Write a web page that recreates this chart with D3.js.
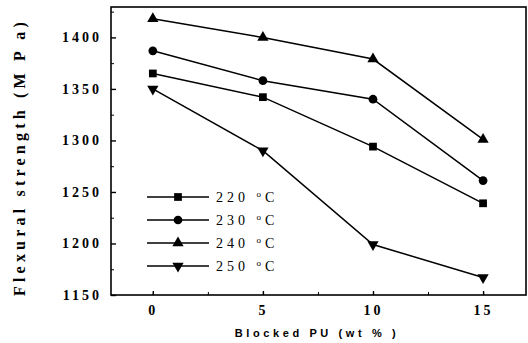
<!DOCTYPE html>
<html>
<head>
<meta charset="utf-8">
<script src="https://cdn.jsdelivr.net/npm/d3@7"></script>
<style>
  body { margin: 0; background: #fff; }
  .tick text { font-family: "Liberation Serif", "DejaVu Serif", serif; font-size: 14px; font-weight: bold; letter-spacing: 3px; fill: #000; }
</style>
</head>
<body>
<div id="chart"></div>
<script>
var svgWidth = 528;
var svgHeight = 343;

var margin = { top: 7, right: 2, bottom: 48, left: 111 };
var width = svgWidth - margin.left - margin.right;
var height = svgHeight - margin.top - margin.bottom;

// data
var blockedPU = [0, 5, 10, 15];
var temps = ["220 °C", "230 °C", "240 °C", "250 °C"];
var s220 = [1365, 1342, 1294, 1239];
var s230 = [1387, 1358, 1340, 1261];
var s240 = [1418, 1400, 1379, 1301];
var s250 = [1350, 1290, 1199, 1167];
var yTicks = [1150, 1200, 1250, 1300, 1350, 1400];
var xTicks = [0, 5, 10, 15];

var series = [
    { name: temps[0], values: s220, symbol: d3.symbolSquare, size: 60, rot: 0 },
    { name: temps[1], values: s230, symbol: d3.symbolCircle, size: 60, rot: 0 },
    { name: temps[2], values: s240, symbol: d3.symbolTriangle, size: 55, rot: 0 },
    { name: temps[3], values: s250, symbol: d3.symbolTriangle, size: 55, rot: 180 }
];

var svg = d3.select("#chart")
    .append("svg")
    .attr("width", svgWidth)
    .attr("height", svgHeight);

var chart = svg.append("g")
    .attr("transform", `translate(${margin.left}, ${margin.top})`);

var xScale = d3.scaleLinear().domain([-1.9, 16.95]).range([0, width]);
var yScale = d3.scaleLinear().domain([1150, 1429.5]).range([height, 0]);

// frame
chart.append("rect")
    .attr("width", width)
    .attr("height", height)
    .attr("fill", "none")
    .attr("stroke", "#000")
    .attr("stroke-width", 1.6);

// minor ticks
chart.append("g")
    .attr("transform", `translate(0, ${height})`)
    .call(d3.axisBottom(xScale).tickValues(d3.range(0, 17, 2.5)).tickSize(-3).tickFormat(""))
    .call(g => g.select(".domain").remove());
chart.append("g")
    .call(d3.axisLeft(yScale).tickValues(d3.range(1175, 1430, 50)).tickSize(-3).tickFormat(""))
    .call(g => g.select(".domain").remove());

// major ticks
chart.append("g")
    .attr("transform", `translate(0, ${height})`)
    .call(d3.axisBottom(xScale).tickValues(xTicks).tickSize(-4).tickPadding(10).tickFormat(d3.format("d")))
    .call(g => g.select(".domain").remove())
    .call(g => g.selectAll("line").attr("stroke-width", 1.4));
chart.append("g")
    .call(d3.axisLeft(yScale).tickValues(yTicks).tickSize(-5).tickPadding(9).tickFormat(d3.format("d")))
    .call(g => g.select(".domain").remove())
    .call(g => g.selectAll("line").attr("stroke-width", 1.4));

// axis labels
chart.append("text")
    .attr("x", 206)
    .attr("y", height + 42)
    .attr("text-anchor", "middle")
    .style("font-family", "'Liberation Sans', Arial, sans-serif")
    .style("font-weight", "bold")
    .style("font-size", "11px")
    .style("letter-spacing", "3.6px")
    .text("Blocked PU (wt % )");

chart.append("text")
    .attr("transform", "rotate(-90)")
    .attr("x", -height / 2 - 6)
    .attr("y", -86)
    .attr("text-anchor", "middle")
    .style("font-family", "'Liberation Serif', serif")
    .style("font-weight", "bold")
    .style("font-size", "16px")
    .style("letter-spacing", "4.2px")
    .text("Flexural strength (M P a)");

// lines and markers
var line = d3.line()
    .x((d, i) => xScale(blockedPU[i]))
    .y(d => yScale(d));

series.forEach(function (s) {
    chart.append("path")
        .datum(s.values)
        .attr("d", line)
        .attr("fill", "none")
        .attr("stroke", "#000")
        .attr("stroke-width", 1.5);

    chart.selectAll(null)
        .data(s.values)
        .enter()
        .append("path")
        .attr("d", d3.symbol().type(s.symbol).size(s.size))
        .attr("transform", (d, i) => `translate(${xScale(blockedPU[i])}, ${yScale(d)}) rotate(${s.rot})`)
        .attr("fill", "#000");
});

// legend
var legend = chart.append("g")
    .attr("transform", "translate(36, 190)");

series.forEach(function (s, i) {
    var row = legend.append("g").attr("transform", `translate(0, ${i * 23})`);
    row.append("line")
        .attr("x1", 0).attr("x2", 62)
        .attr("stroke", "#000")
        .attr("stroke-width", 1.5);
    row.append("path")
        .attr("d", d3.symbol().type(s.symbol).size(s.size))
        .attr("transform", `translate(31, 0) rotate(${s.rot})`)
        .attr("fill", "#000");
    var t = row.append("text")
        .attr("x", 69)
        .attr("y", 5)
        .style("font-family", "'Liberation Serif', serif")
        .style("font-size", "14px")
        .style("letter-spacing", "4px");
    t.append("tspan").text(s.name.split(" ")[0] + "  ");
    t.append("tspan").attr("dy", -5).style("font-size", "9px").text("o");
    t.append("tspan").attr("dy", 5).text("C");
});
</script>
</body>
</html>
